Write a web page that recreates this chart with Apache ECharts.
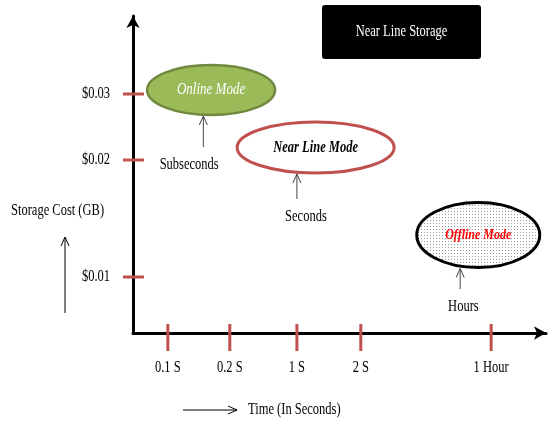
<!DOCTYPE html>
<html><head><meta charset="utf-8">
<script src="https://cdn.jsdelivr.net/npm/echarts@6/dist/echarts.min.js"></script>
<style>html,body{margin:0;padding:0;background:#fff}#c{width:552px;height:421px}</style>
</head><body><div id="c"></div>
<script>
// ---- data (diagram units: x = time class position, y = cost position) ----
const xTickLabels = ['0.1 S', '0.2 S', '1 S', '2 S', '1 Hour'];
const xTickPos = [0.54, 1.5, 2.54, 3.53, 5.55];
const yTickLabels = ['$0.01', '$0.02', '$0.03'];
const yTickPos = [0.56, 1.73, 2.39];
const modeNames = ['Online Mode', 'Near Line Mode', 'Offline Mode'];
const modeX = [1.21, 2.83, 5.35];
const modeY = [2.43, 1.855, 0.98];
const noteNames = ['Subseconds', 'Seconds', 'Hours'];
const noteX = [0.87, 2.68, 5.12];
const noteY = [1.68, 1.16, 0.26];
const noteArrowX = [1.09, 2.54, 5.07];

// ---- styles ----
const SERIF = '"Liberation Serif", "Times New Roman", serif';
const TICK_RED = '#c0504d';
const TALL = 1.3;
const pat = document.createElement('canvas');
pat.width = 3; pat.height = 3;
(function(){ const g = pat.getContext('2d'); g.fillStyle = '#fff'; g.fillRect(0,0,3,3); g.fillStyle = '#999'; g.fillRect(1,1,1,1); })();
const modeStyle = [
  { w: 128, h: 50, fill: '#9bbb59', stroke: '#71893f', lw: 2.5, color: '#ffffff', font: 'italic 13px ' + SERIF },
  { w: 157, h: 51, fill: '#ffffff', stroke: TICK_RED, lw: 3, color: '#000000', font: 'bold italic 12.5px ' + SERIF },
  { w: 123, h: 65, fill: { image: pat, repeat: 'repeat' }, stroke: '#000000', lw: 3, color: '#ff0000', font: 'bold italic 12px ' + SERIF }
];

function chevronUp(x, y, color) {
  return { type: 'polyline', shape: { points: [[x - 4, y + 9], [x, y], [x + 4, y + 9]] }, style: { stroke: color, lineWidth: 1, fill: null } };
}
function txt(text, x, y, font, fill, align, valign) {
  return { type: 'text', x: x, y: y, scaleY: TALL,
    style: { text: text, x: 0, y: 0, font: font, fill: fill, textAlign: align, align: align, textVerticalAlign: valign, verticalAlign: valign } };
}

const chart = echarts.init(document.getElementById('c'));
chart.setOption({
  animation: false,
  backgroundColor: '#ffffff',
  grid: { left: 133, right: 6, top: 16, bottom: 88 },
  xAxis: { type: 'value', min: 0, max: 6.40, splitLine: { show: false }, axisTick: { show: false }, axisLabel: { show: false },
    axisLine: { show: true, onZero: false, symbol: ['none', 'arrow'], symbolSize: [10, 12], lineStyle: { color: '#000', width: 3 } } },
  yAxis: { type: 'value', min: 0, max: 3.17, splitLine: { show: false }, axisTick: { show: false }, axisLabel: { show: false },
    axisLine: { show: true, onZero: false, symbol: ['none', 'arrow'], symbolSize: [10, 12], lineStyle: { color: '#000', width: 3 } } },
  graphic: [
    { type: 'rect', shape: { x: 322, y: 5, width: 159, height: 54, r: 3 }, style: { fill: '#000' } },
    txt('Near Line Storage', 401.5, 32, '12.5px ' + SERIF, '#fff', 'center', 'middle'),
    txt('Storage Cost (GB)', 11, 211, '12.5px ' + SERIF, '#000', 'left', 'middle'),
    { type: 'line', shape: { x1: 65, y1: 313, x2: 65, y2: 237 }, style: { stroke: '#000', lineWidth: 1 } },
    chevronUp(65, 237, '#000'),
    txt('Time (In Seconds)', 248, 410, '12.5px ' + SERIF, '#000', 'left', 'middle'),
    { type: 'line', shape: { x1: 183, y1: 410, x2: 237, y2: 410 }, style: { stroke: '#000', lineWidth: 1 } },
    { type: 'polyline', shape: { points: [[228, 406], [237, 410], [228, 414]] }, style: { stroke: '#000', lineWidth: 1, fill: null } }
  ],
  series: [
    { type: 'custom', name: 'xTicks', data: xTickPos.map((p, i) => [p, 0, i]),
      renderItem: function (params, api) {
        const p = api.coord([api.value(0), 0]);
        const i = api.value(2);
        return { type: 'group', children: [
          { type: 'line', shape: { x1: p[0], y1: p[1] - 9, x2: p[0], y2: p[1] + 18 }, style: { stroke: TICK_RED, lineWidth: 3 } },
          txt(xTickLabels[i], p[0], p[1] + 35, '12.5px ' + SERIF, '#000', 'center', 'middle')
        ] };
      } },
    { type: 'custom', name: 'yTicks', data: yTickPos.map((p, i) => [0, p, i]),
      renderItem: function (params, api) {
        const p = api.coord([0, api.value(1)]);
        const i = api.value(2);
        return { type: 'group', children: [
          { type: 'line', shape: { x1: p[0] - 10, y1: p[1], x2: p[0] + 11, y2: p[1] }, style: { stroke: TICK_RED, lineWidth: 3 } },
          txt(yTickLabels[i], p[0] - 23, p[1], '12.5px ' + SERIF, '#000', 'right', 'middle')
        ] };
      } },
    { type: 'custom', name: 'notes', data: noteX.map((x, i) => [x, noteY[i], i]),
      renderItem: function (params, api) {
        const i = api.value(2);
        const t = api.coord([api.value(0), api.value(1)]);
        const a = api.coord([noteArrowX[i], api.value(1)]);
        const m = api.coord([modeX[i], modeY[i]]);
        const top = m[1] + modeStyle[i].h / 2 + 1;
        return { type: 'group', children: [
          { type: 'line', shape: { x1: a[0], y1: t[1] - 18, x2: a[0], y2: top }, style: { stroke: '#444', lineWidth: 1 } },
          chevronUp(a[0], top, '#444'),
          txt(noteNames[i], t[0], t[1], '12.5px ' + SERIF, '#000', 'center', 'middle')
        ] };
      } },
    { type: 'custom', name: 'modes', data: modeX.map((x, i) => [x, modeY[i], i]),
      renderItem: function (params, api) {
        const i = api.value(2);
        const s = modeStyle[i];
        const c = api.coord([api.value(0), api.value(1)]);
        return { type: 'group', children: [
          { type: 'ellipse', shape: { cx: c[0], cy: c[1], rx: s.w / 2, ry: s.h / 2 }, style: { fill: s.fill, stroke: s.stroke, lineWidth: s.lw } },
          txt(modeNames[i], c[0], c[1], s.font, s.color, 'center', 'middle')
        ] };
      } }
  ]
});
</script></body></html>
